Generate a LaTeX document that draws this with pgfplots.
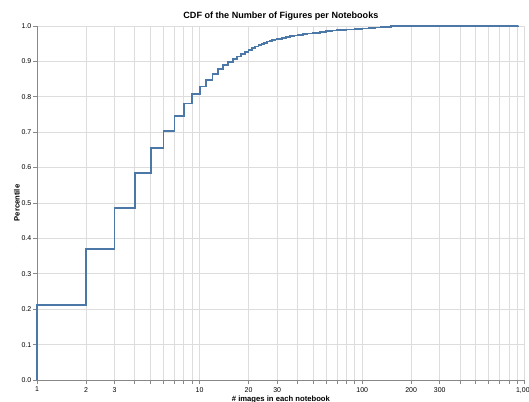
\documentclass[border=0pt]{standalone}
\usepackage{pgfplots}
\pgfplotsset{compat=1.18}
\usepackage{fontspec}
\setmainfont{Liberation Sans}
\definecolor{vblue}{HTML}{4C78A8}
\definecolor{vgrid}{HTML}{DDDDDD}
\definecolor{vaxis}{HTML}{888888}
\begin{document}
\begin{tikzpicture}
\begin{axis}[
  at={(37bp,22bp)}, anchor=south west,
  scale only axis, width=487.8bp, height=354bp,
  xmode=log, log basis x=10,
  xmin=1, xmax=1000, ymin=0, ymax=1,
  clip=false,
  axis lines*=left,
  axis line style={vaxis, line width=0.8bp},
  xtick={1,2,3,10,20,30,100,200,300,1000},
  xticklabels={1,2,3,10,20,30,100,200,300,{1,000}},
  minor xtick={4,5,6,7,8,9,40,50,60,70,80,90,400,500,600,700,800,900},
  ytick={0,0.1,0.2,0.3,0.4,0.5,0.6,0.7,0.8,0.9,1},
  yticklabel style={/pgf/number format/fixed, /pgf/number format/fixed zerofill, /pgf/number format/precision=1},
  /pgf/number format/assume math mode=true,
  tick align=outside,
  major tick length=4bp, minor tick length=4bp,
  every tick/.style={vaxis, line width=0.8bp},
  grid=both,
  major grid style={vgrid, line width=0.8bp},
  minor grid style={vgrid, line width=0.8bp},
  tick label style={font=\fontsize{7}{8}\selectfont, black},
  xticklabel style={inner sep=0pt, anchor=north, yshift=-3bp},
  yticklabel style={inner sep=0pt, anchor=east, xshift=-1.5bp},
  title={CDF of the Number of Figures per Notebooks},
  title style={font=\bfseries\fontsize{9.1}{11}\selectfont, anchor=base, at={(axis description cs:0.5,1)}, yshift=2bp, inner sep=0pt},
  xlabel={\# images in each notebook},
  xlabel style={font=\bfseries\fontsize{7.7}{9}\selectfont, anchor=north, at={(axis description cs:0.5,0)}, yshift=-15.5bp, inner sep=0pt},
  ylabel={Percentile},
  ylabel style={font=\bfseries\fontsize{7.7}{9}\selectfont, anchor=center, at={(axis description cs:-0.041,0.5)}, inner sep=0pt},
]
\addplot[const plot, vblue, line width=1.8bp] coordinates {
(1,0) (1,0.212) (2,0.370) (3,0.487) (4,0.585) (5,0.655) (6,0.703) (7,0.745)
(8,0.781) (9,0.807) (10,0.829) (11,0.847) (12,0.864) (13,0.879) (14,0.890)
(15,0.899) (16,0.907) (17,0.914) (18,0.921) (19,0.927) (20,0.933) (21,0.938)
(22,0.942) (23,0.946) (24,0.950) (25,0.953) (26,0.956) (27,0.958) (28,0.960)
(29,0.962) (30,0.964) (32,0.967) (34,0.969) (36,0.971) (38,0.973) (40,0.975)
(43,0.977) (46,0.979) (50,0.981) (55,0.983) (60,0.985) (65,0.987) (70,0.989)
(80,0.990) (90,0.991) (100,0.993) (110,0.995) (120,0.996) (130,0.997)
(140,0.998) (150,0.999) (200,0.9993) (400,0.9996) (914,1.0)
};
\end{axis}
\pgfresetboundingbox
\useasboundingbox (0bp,0bp) rectangle (529bp,402bp);
\end{tikzpicture}
\end{document}
